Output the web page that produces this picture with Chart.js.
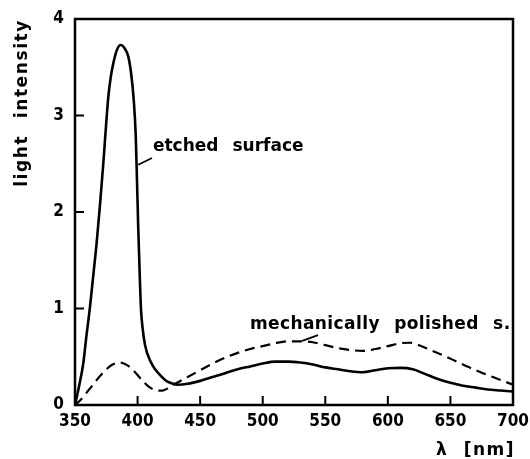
<!DOCTYPE html>
<html>
<head>
<meta charset="utf-8">
<script src="https://cdn.jsdelivr.net/npm/chart.js@4.4.1/dist/chart.umd.min.js"></script>
<style>
  html, body { margin: 0; padding: 0; background: #fff; }
  #wrap { width: 530px; height: 459px; }
</style>
</head>
<body>
<div id="wrap"><canvas id="c" width="530" height="459"></canvas></div>
<script>
// ---- data ----
const etchedWavelength = [350, 353, 356.6, 359, 362, 364.5, 367.3, 370, 372.6, 374.6, 376.6, 378.6, 380.6, 383.5, 386.5, 389.5, 392.6, 395, 397, 398.5, 399.5, 400.5, 401.6, 402.7, 404, 406, 410, 414, 418, 422, 426, 432, 440, 450, 460, 470, 480, 490, 500, 510, 520, 530, 540, 550, 560, 570, 580, 590, 600, 610, 620, 630, 640, 650, 660, 670, 680, 690, 700];
const etchedIntensity  = [0, 0.18, 0.43, 0.7, 1.02, 1.33, 1.68, 2.08, 2.5, 2.86, 3.19, 3.4, 3.54, 3.68, 3.73, 3.7, 3.61, 3.42, 3.15, 2.8, 2.35, 1.85, 1.4, 1.0, 0.8, 0.62, 0.46, 0.37, 0.31, 0.26, 0.23, 0.21, 0.22, 0.25, 0.29, 0.33, 0.37, 0.4, 0.43, 0.45, 0.45, 0.44, 0.42, 0.39, 0.37, 0.35, 0.34, 0.36, 0.38, 0.385, 0.37, 0.32, 0.27, 0.23, 0.2, 0.18, 0.16, 0.15, 0.14];

const polishedWavelength = [350, 355, 360, 365, 370, 375, 380, 386, 392, 398, 404, 410, 416, 420, 425, 430, 440, 450, 460, 470, 480, 490, 500, 510, 520, 530, 540, 550, 560, 570, 580, 590, 600, 610, 618, 625, 634, 645, 655, 665, 676, 688, 700];
const polishedIntensity  = [0, 0.06, 0.14, 0.22, 0.3, 0.37, 0.42, 0.44, 0.41, 0.34, 0.25, 0.18, 0.15, 0.15, 0.18, 0.22, 0.29, 0.36, 0.43, 0.49, 0.54, 0.58, 0.61, 0.64, 0.66, 0.66, 0.65, 0.62, 0.59, 0.57, 0.56, 0.58, 0.61, 0.64, 0.645, 0.62, 0.57, 0.51, 0.45, 0.39, 0.33, 0.27, 0.21];

const xTickValues = [350, 400, 450, 500, 550, 600, 650, 700];
const yTickValues = [0, 1, 2, 3, 4];
const seriesLabels = ['etched surface', 'mechanically polished s.'];
const axisTitles = { x: 'λ [nm]', y: 'light intensity' };

const toPoints = (xs, ys) => xs.map((x, i) => ({ x: x, y: ys[i] }));

const FONT = '"DejaVu Sans", sans-serif';
const TICKFONT = '"DejaVu Sans Condensed", "DejaVu Sans", sans-serif';
const INK = '#000';

function styledText(ctx, text, x, y, align, ls, ws) {
  ctx.letterSpacing = ls + 'px';
  ctx.wordSpacing = ws + 'px';
  ctx.textAlign = align;
  ctx.fillText(text, x, y);
  ctx.letterSpacing = '0px';
  ctx.wordSpacing = '0px';
}

// frame + inward ticks + annotations + axis titles
const decor = {
  id: 'decor',
  afterDatasetsDraw(chart) {
    const { ctx, chartArea: a, scales: { x, y } } = chart;
    ctx.save();
    ctx.strokeStyle = INK;
    ctx.lineWidth = 2.5;
    ctx.strokeRect(a.left, a.top, a.right - a.left, a.bottom - a.top);
    ctx.lineWidth = 2;
    const tl = 9;
    xTickValues.forEach(v => {
      const px = x.getPixelForValue(v);
      ctx.beginPath(); ctx.moveTo(px, a.bottom); ctx.lineTo(px, a.bottom - tl); ctx.stroke();
    });
    yTickValues.forEach(v => {
      const py = y.getPixelForValue(v);
      ctx.beginPath(); ctx.moveTo(a.left, py); ctx.lineTo(a.left + tl, py); ctx.stroke();
    });
    // annotations with leader lines (anchored in data coordinates)
    ctx.fillStyle = INK;
    ctx.font = 'bold 17px ' + FONT;
    ctx.textBaseline = 'middle';
    ctx.lineWidth = 1.8;
    ctx.beginPath();
    ctx.moveTo(x.getPixelForValue(400.6), y.getPixelForValue(2.49));
    ctx.lineTo(x.getPixelForValue(411.5), y.getPixelForValue(2.56));
    ctx.stroke();
    styledText(ctx, seriesLabels[0], x.getPixelForValue(412.3), y.getPixelForValue(2.68), 'left', 0, 8);
    ctx.beginPath();
    ctx.moveTo(x.getPixelForValue(531.5), y.getPixelForValue(0.665));
    ctx.lineTo(x.getPixelForValue(544.2), y.getPixelForValue(0.725));
    ctx.stroke();
    styledText(ctx, seriesLabels[1], x.getPixelForValue(489.8), y.getPixelForValue(0.83), 'left', 0.4, 8);
    // axis titles
    styledText(ctx, axisTitles.x, a.right + 2, a.bottom + 46, 'right', 1.5, 8);
    ctx.save();
    ctx.translate(23, a.top);
    ctx.rotate(-Math.PI / 2);
    styledText(ctx, axisTitles.y, 0, 0, 'right', 1.6, 9);
    ctx.restore();
    ctx.restore();
  }
};

new Chart(document.getElementById('c'), {
  type: 'line',
  data: {
    datasets: [
      {
        label: seriesLabels[0],
        data: toPoints(etchedWavelength, etchedIntensity),
        borderColor: INK, borderWidth: 2.6, pointRadius: 0,
        cubicInterpolationMode: 'monotone', fill: false
      },
      {
        label: seriesLabels[1],
        data: toPoints(polishedWavelength, polishedIntensity),
        borderColor: INK, borderWidth: 2.2, borderDash: [10, 6], pointRadius: 0,
        cubicInterpolationMode: 'monotone', fill: false
      }
    ]
  },
  options: {
    responsive: false,
    animation: false,
    layout: { padding: { left: 0, right: 17, top: 19, bottom: 0 } },
    plugins: { legend: { display: false }, tooltip: { enabled: false } },
    scales: {
      x: {
        type: 'linear', min: 350, max: 700,
        afterBuildTicks: s => { s.ticks = xTickValues.map(v => ({ value: v })); },
        afterFit: s => { s.height = 54; s.paddingLeft = 0; s.paddingRight = 0; },
        grid: { display: false, drawTicks: false },
        border: { display: false },
        ticks: { color: INK, font: { family: TICKFONT, size: 17, weight: 'bold' }, padding: 6, maxRotation: 0, autoSkip: false },
        title: { display: false }
      },
      y: {
        type: 'linear', min: 0, max: 4,
        afterBuildTicks: s => { s.ticks = yTickValues.map(v => ({ value: v })); },
        afterFit: s => { s.width = 75; s.paddingTop = 0; s.paddingBottom = 0; },
        grid: { display: false, drawTicks: false },
        border: { display: false },
        ticks: { color: INK, font: { family: TICKFONT, size: 17, weight: 'bold' }, padding: 11 },
        title: { display: false }
      }
    }
  },
  plugins: [decor]
});
</script>
</body>
</html>
